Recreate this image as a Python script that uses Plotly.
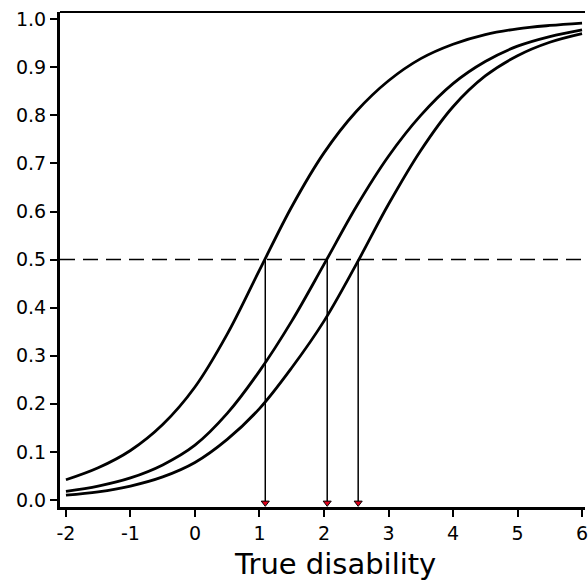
import plotly.graph_objects as go

# x grid of readings
x_vals = [-2, -1.5, -1, -0.5, 0, 0.5, 1, 1.5, 2, 2.5, 3, 3.5, 4, 4.5, 5, 5.5, 6]

# three item characteristic curves (probability vs true disability)
curve_a = [0.042, 0.067, 0.103, 0.157, 0.235, 0.345, 0.478, 0.610, 0.722, 0.808,
           0.872, 0.918, 0.948, 0.968, 0.980, 0.987, 0.992]
curve_b = [0.018, 0.029, 0.046, 0.073, 0.114, 0.180, 0.268, 0.372, 0.490, 0.610,
           0.715, 0.800, 0.866, 0.912, 0.944, 0.964, 0.978]
curve_c = [0.010, 0.017, 0.029, 0.048, 0.078, 0.126, 0.190, 0.275, 0.372, 0.490,
           0.615, 0.727, 0.818, 0.882, 0.924, 0.952, 0.970]

threshold = 0.5
crossings = [1.09, 2.05, 2.53]
arrow_foot = -0.006

x_ticks = [-2, -1, 0, 1, 2, 3, 4, 5, 6]
y_ticks = [0.0, 0.1, 0.2, 0.3, 0.4, 0.5, 0.6, 0.7, 0.8, 0.9, 1.0]
x_title = "True disability"

FONT = "DejaVu Sans"

fig = go.Figure()

# dashed threshold line
fig.add_trace(go.Scatter(x=[-2.092, 6.046], y=[threshold, threshold], mode="lines",
                         line=dict(color="black", width=1.5, dash="15px,8px"),
                         hoverinfo="skip", showlegend=False, cliponaxis=False))

# vertical arrows
for xc in crossings:
    fig.add_trace(go.Scatter(x=[xc, xc], y=[threshold, arrow_foot], mode="lines",
                             line=dict(color="black", width=1.5),
                             hoverinfo="skip", showlegend=False))
fig.add_trace(go.Scatter(x=crossings, y=[arrow_foot] * len(crossings), mode="markers",
                         marker=dict(symbol="triangle-down", size=7, color="#e0001b",
                                     line=dict(color="black", width=1)),
                         hoverinfo="skip", showlegend=False, cliponaxis=False))

for ys in (curve_a, curve_b, curve_c):
    fig.add_trace(go.Scatter(x=x_vals, y=ys, mode="lines",
                             line=dict(color="black", width=2.8, shape="spline", smoothing=1.0),
                             showlegend=False))

fig.update_layout(
    width=588, height=585,
    margin=dict(l=60, r=0, t=12, b=78),
    paper_bgcolor="white", plot_bgcolor="white",
    font=dict(family=FONT, color="black", size=19),
    xaxis=dict(range=[-2.092, 6.046], tickvals=x_ticks, ticktext=[str(v) for v in x_ticks],
               showgrid=False, zeroline=False, showline=True, linecolor="black", linewidth=3,
               ticks="outside", ticklen=7, tickwidth=1.5, tickcolor="black",
               ticklabeloverflow="allow",
               tickfont=dict(family=FONT, size=19)),
    yaxis=dict(range=[-0.0146, 1.015], tickvals=y_ticks, tickformat=".1f",
               showgrid=False, zeroline=False, showline=True, linecolor="black", linewidth=3,
               ticks="outside", ticklen=7, tickwidth=1.5, tickcolor="black",
               tickfont=dict(family=FONT, size=19)),
    shapes=[dict(type="line", xref="paper", yref="paper", x0=0, x1=1, y0=1, y1=1,
                 line=dict(color="black", width=2))],
    annotations=[dict(text=x_title, xref="paper", yref="paper", x=0.523, y=-0.115,
                      xanchor="center", yanchor="middle", showarrow=False,
                      font=dict(family=FONT, size=29, color="black"))],
)

fig.write_html("out.html")
